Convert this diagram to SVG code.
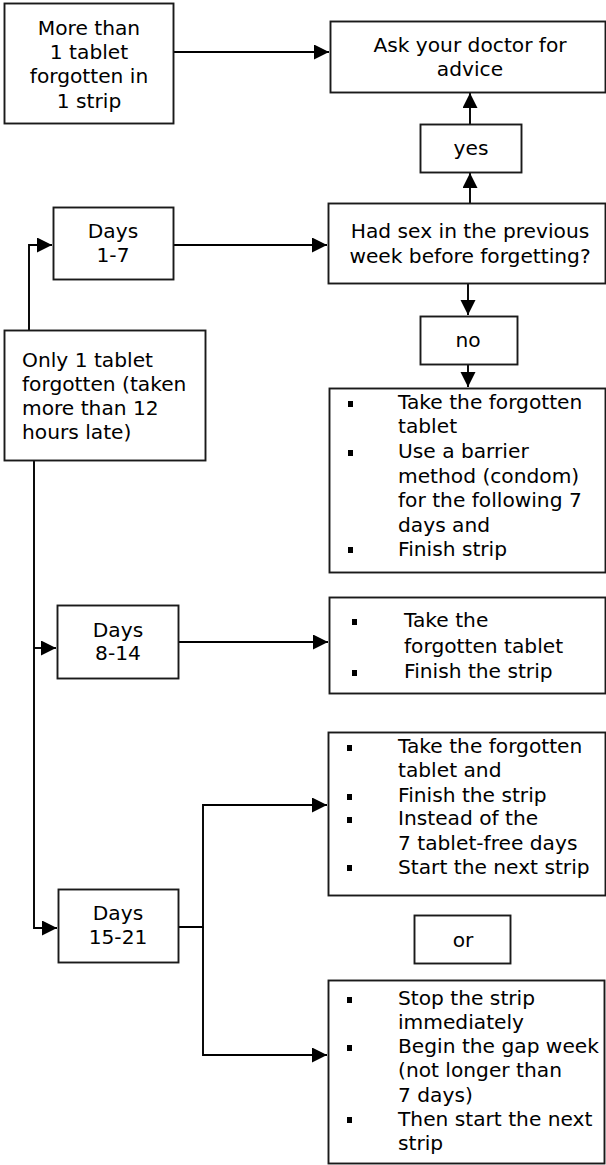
<svg xmlns="http://www.w3.org/2000/svg" width="606" height="1165" viewBox="0 0 606 1165">
<style>
.box{fill:#fff;stroke:#1a1a1a;stroke-width:1.9}
.t{font-family:"DejaVu Sans",Verdana,sans-serif;font-size:20.2px;fill:#000}
.c{text-anchor:middle}
.ln{fill:none;stroke:#000;stroke-width:1.9}
.b{fill:#000}
</style>
<defs>
<marker id="ah" markerUnits="userSpaceOnUse" markerWidth="16" markerHeight="16" refX="15" refY="7.5" orient="auto">
<path d="M0,0 L15,7.5 L0,15 z" fill="#000"/>
</marker>
</defs>
<rect width="606" height="1165" fill="#fff"/>
<g id="connectors">
<path class="ln" d="M174,52 H329" marker-end="url(#ah)"/>
<path class="ln" d="M470,124 V93" marker-end="url(#ah)"/>
<path class="ln" d="M470,203 V173" marker-end="url(#ah)"/>
<path class="ln" d="M174,245 H327" marker-end="url(#ah)"/>
<path class="ln" d="M29,330 V245 H52" marker-end="url(#ah)"/>
<path class="ln" d="M468,283 V315" marker-end="url(#ah)"/>
<path class="ln" d="M468,364 V387" marker-end="url(#ah)"/>
<path class="ln" d="M34,460 V928 H57" marker-end="url(#ah)"/>
<path class="ln" d="M34,648 H56" marker-end="url(#ah)"/>
<path class="ln" d="M179,642 H328" marker-end="url(#ah)"/>
<path class="ln" d="M179,927 H203 V805 H327" marker-end="url(#ah)"/>
<path class="ln" d="M203,927 V1055 H327" marker-end="url(#ah)"/>
</g>
<g id="n-more">
<rect class="box" x="4.5" y="3.5" width="169" height="120"/>
<text class="t c" x="89" y="35">More than</text>
<text class="t c" x="89" y="59">1 tablet</text>
<text class="t c" x="89" y="83">forgotten in</text>
<text class="t c" x="89" y="108">1 strip</text>
</g>
<g id="n-ask">
<rect class="box" x="330.5" y="21.5" width="275" height="71"/>
<text class="t c" x="470" y="52">Ask your doctor for</text>
<text class="t c" x="470" y="76">advice</text>
</g>
<g id="n-yes">
<rect class="box" x="420.5" y="124.5" width="101" height="48"/>
<text class="t c" x="471" y="155">yes</text>
</g>
<g id="n-days17">
<rect class="box" x="53.5" y="207.5" width="120" height="72"/>
<text class="t c" x="113" y="238">Days</text>
<text class="t c" x="113" y="262">1-7</text>
</g>
<g id="n-sex">
<rect class="box" x="328.5" y="203.5" width="277" height="80"/>
<text class="t c" x="470" y="238">Had sex in the previous</text>
<text class="t c" x="470" y="263">week before forgetting?</text>
</g>
<g id="n-no">
<rect class="box" x="420.5" y="316.5" width="97" height="48"/>
<text class="t c" x="468" y="347">no</text>
</g>
<g id="n-only">
<rect class="box" x="4.5" y="330.5" width="201" height="130"/>
<text class="t" x="22" y="367">Only 1 tablet</text>
<text class="t" x="22" y="391">forgotten (taken</text>
<text class="t" x="22" y="415">more than 12</text>
<text class="t" x="22" y="439">hours late)</text>
</g>
<g id="n-take1">
<rect class="box" x="329.5" y="388.5" width="276" height="184"/>
<rect class="b" x="348" y="401" width="5" height="6"/>
<rect class="b" x="348" y="450" width="5" height="6"/>
<rect class="b" x="348" y="547" width="5" height="6"/>
<text class="t" x="398" y="409">Take the forgotten</text>
<text class="t" x="398" y="433">tablet</text>
<text class="t" x="398" y="458">Use a barrier</text>
<text class="t" x="398" y="483">method (condom)</text>
<text class="t" x="398" y="507">for the following 7</text>
<text class="t" x="398" y="532">days and</text>
<text class="t" x="398" y="556">Finish strip</text>
</g>
<g id="n-days814">
<rect class="box" x="57.5" y="605.5" width="121" height="73"/>
<text class="t c" x="118" y="637">Days</text>
<text class="t c" x="118" y="660">8-14</text>
</g>
<g id="n-take2">
<rect class="box" x="329.5" y="597.5" width="276" height="96"/>
<rect class="b" x="352" y="619" width="5" height="6"/>
<rect class="b" x="352" y="670" width="5" height="6"/>
<text class="t" x="404" y="627">Take the</text>
<text class="t" x="404" y="653">forgotten tablet</text>
<text class="t" x="404" y="678">Finish the strip</text>
</g>
<g id="n-take3">
<rect class="box" x="328.5" y="732.5" width="277" height="163"/>
<rect class="b" x="347" y="745" width="5" height="6"/>
<rect class="b" x="347" y="794" width="5" height="6"/>
<rect class="b" x="347" y="817" width="5" height="6"/>
<rect class="b" x="347" y="865" width="5" height="6"/>
<text class="t" x="398" y="753">Take the forgotten</text>
<text class="t" x="398" y="777">tablet and</text>
<text class="t" x="398" y="802">Finish the strip</text>
<text class="t" x="398" y="825">Instead of the</text>
<text class="t" x="398" y="850">7 tablet-free days</text>
<text class="t" x="398" y="874">Start the next strip</text>
</g>
<g id="n-days1521">
<rect class="box" x="58.5" y="889.5" width="120" height="73"/>
<text class="t c" x="118" y="920">Days</text>
<text class="t c" x="118" y="944">15-21</text>
</g>
<g id="n-or">
<rect class="box" x="414.5" y="915.5" width="96" height="48"/>
<text class="t c" x="463" y="947">or</text>
</g>
<g id="n-stop">
<rect class="box" x="328.5" y="980.5" width="276" height="183"/>
<rect class="b" x="347" y="997" width="5" height="6"/>
<rect class="b" x="347" y="1045" width="5" height="6"/>
<rect class="b" x="347" y="1117" width="5" height="6"/>
<text class="t" x="398" y="1005">Stop the strip</text>
<text class="t" x="398" y="1029">immediately</text>
<text class="t" x="398" y="1053">Begin the gap week</text>
<text class="t" x="398" y="1077">(not longer than</text>
<text class="t" x="398" y="1102">7 days)</text>
<text class="t" x="398" y="1126">Then start the next</text>
<text class="t" x="398" y="1150">strip</text>
</g>
</svg>
